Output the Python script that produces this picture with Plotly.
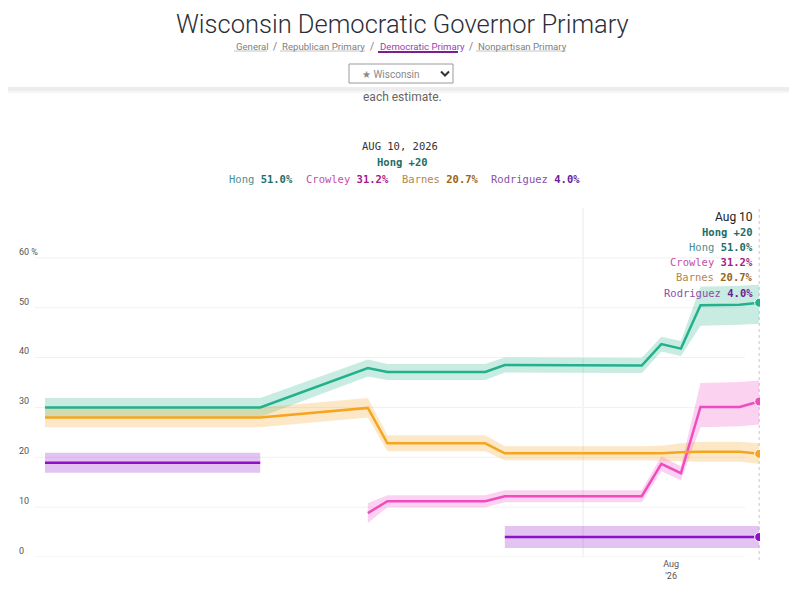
import plotly.graph_objects as go

# --- DATA ---
DATES = ["2026-05-29", "2026-06-20", "2026-07-01", "2026-07-03", "2026-07-13", "2026-07-15",
         "2026-07-29", "2026-07-31", "2026-08-02", "2026-08-04", "2026-08-08", "2026-08-10"]

CANDIDATES = ["Hong", "Crowley", "Barnes", "Rodriguez"]

hong_mid = [30.0, 30.0, 37.9, 37.1, 37.1, 38.5, 38.4, 42.7, 41.8, 50.5, 50.6, 51.0]
hong_lo = [28.1, 28.1, 36.2, 35.5, 35.5, 37.0, 36.9, 41.2, 40.3, 46.4, 46.6, 46.8]
hong_hi = [31.9, 31.9, 39.6, 38.7, 38.7, 40.0, 39.9, 44.2, 43.3, 54.2, 54.4, 54.6]

crowley_mid = [None, None, 8.8, 11.2, 11.2, 12.2, 12.2, 18.7, 16.8, 30.1, 30.1, 31.2]
crowley_lo = [None, None, 6.8, 10.0, 10.0, 11.0, 11.0, 17.2, 15.4, 26.0, 26.2, 26.6]
crowley_hi = [None, None, 10.8, 12.4, 12.4, 13.4, 13.4, 20.2, 18.2, 34.9, 35.1, 35.4]

barnes_mid = [28.0, 28.0, 29.9, 22.8, 22.8, 20.8, 20.8, 20.8, 21.0, 21.1, 21.1, 20.7]
barnes_lo = [26.0, 26.0, 28.0, 21.2, 21.2, 19.4, 19.4, 19.3, 19.2, 19.1, 19.1, 18.7]
barnes_hi = [30.0, 30.0, 31.9, 24.4, 24.4, 22.2, 22.2, 22.3, 22.8, 23.1, 23.1, 22.8]

rodriguez_mid = [18.9, 18.9, None, None, None, 4.0, 4.0, 4.0, 4.0, 4.0, 4.0, 4.0]
rodriguez_lo = [16.9, 16.9, None, None, None, 1.8, 1.8, 1.8, 1.8, 1.8, 1.8, 1.8]
rodriguez_hi = [20.9, 20.9, None, None, None, 6.2, 6.2, 6.2, 6.2, 6.2, 6.2, 6.2]

Y_TICKS = [0, 10, 20, 30, 40, 50, 60]
Y_TICK_TEXT = ["0", "10", "20", "30", "40", "50", "60 %"]
X_TICKS = ["2026-08-01"]
X_TICK_TEXT = ["Aug<br>'26"]
MARKER_DATE = "2026-07-23"

NAV_LINKS = ["General", "Republican Primary", "Democratic Primary", "Nonpartisan Primary"]

# --- STYLE ---
# the page body has an 8px margin, so the figure is drawn 8px in from the top left
PAGE_W, PAGE_H, OFF = 797, 600, 8
W, H = PAGE_W - 2 * OFF, PAGE_H - 2 * OFF
SANS = "Roboto, Arial, sans-serif"
MONO = "DejaVu Sans Mono, monospace"

LINE = {"Hong": "#23b08d", "Crowley": "#f04cc0", "Barnes": "#f5a51f", "Rodriguez": "#8f10c8"}
BAND = {"Hong": "rgba(35,176,141,0.25)", "Crowley": "rgba(240,76,192,0.25)",
        "Barnes": "rgba(245,165,31,0.25)", "Rodriguez": "rgba(143,16,200,0.25)"}
NAME_COL = {"Hong": "#4a9090", "Crowley": "#c450a8", "Barnes": "#b8844c", "Rodriguez": "#8a50a8"}
VAL_COL = {"Hong": "#1e6e68", "Crowley": "#a3208c", "Barnes": "#9a6517", "Rodriguez": "#6a1c98"}


def X(px):
    # page pixel -> paper fraction
    return (px - OFF) / W


def Y(py):
    return 1 - (py - OFF) / H


def runs(dates, lo, hi):
    # split into contiguous pieces (gaps are None)
    out, cur = [], []
    for d, a, b in zip(dates, lo, hi):
        if a is None:
            if cur:
                out.append(cur)
            cur = []
        else:
            cur.append((d, a, b))
    if cur:
        out.append(cur)
    return out


series = {
    "Hong": (hong_mid, hong_lo, hong_hi),
    "Crowley": (crowley_mid, crowley_lo, crowley_hi),
    "Barnes": (barnes_mid, barnes_lo, barnes_hi),
    "Rodriguez": (rodriguez_mid, rodriguez_lo, rodriguez_hi),
}

fig = go.Figure()

# bands
for name in CANDIDATES:
    mid, lo, hi = series[name]
    for piece in runs(DATES, lo, hi):
        xs = [p[0] for p in piece] + [p[0] for p in reversed(piece)]
        ys = [p[2] for p in piece] + [p[1] for p in reversed(piece)]
        fig.add_trace(go.Scatter(x=xs, y=ys, fill="toself", fillcolor=BAND[name],
                                 line=dict(width=0), mode="lines", hoverinfo="skip",
                                 showlegend=False))

# lines
for name in CANDIDATES:
    mid, lo, hi = series[name]
    fig.add_trace(go.Scatter(x=DATES, y=mid, mode="lines", connectgaps=False,
                             line=dict(color=LINE[name], width=2.5), name=name,
                             showlegend=False))

# end dots
for name in CANDIDATES:
    mid, lo, hi = series[name]
    fig.add_trace(go.Scatter(x=[DATES[-1]], y=[mid[-1]], mode="markers",
                             marker=dict(color=LINE[name], size=9, line=dict(color="white", width=1)),
                             showlegend=False, hoverinfo="skip", yaxis="y2"))

# --- texts built from data ---
last = {n: series[n][0][-1] for n in CANDIDATES}
ranked = sorted(CANDIDATES, key=lambda n: last[n], reverse=True)
leader = ranked[0]
lead = round(last[ranked[0]] - last[ranked[1]])
lead_txt = f"<b>{leader} +{lead}</b>"

ann = []

# page header
ann.append(dict(text="Wisconsin Democratic Governor Primary", x=X(402), y=Y(8),
                yanchor="top", borderpad=0,
                font=dict(family=SANS, size=25.5, color="#2a2e3a", weight=300)))
nav_x = [234, 280, 378, 476]
nav_w = [33, 85, 85, 90]
slash_x = [274, 371, 470]
for link, lx in zip(NAV_LINKS, nav_x):
    col = "#9a3fae" if link == "Democratic Primary" else "#808080"
    ann.append(dict(text=link, x=X(lx), y=Y(46), xanchor="left",
                    font=dict(family=SANS, size=9.6, color=col)))
for sx in slash_x:
    ann.append(dict(text="/", x=X(sx + 1), y=Y(46),
                    font=dict(family=SANS, size=10, color="#777")))
ann.append(dict(text="★ Wisconsin", x=X(360), y=Y(74), xanchor="left",
                font=dict(family=SANS, size=10, color="#888")))
ann.append(dict(text="each estimate.", x=X(402), y=Y(97),
                font=dict(family=SANS, size=12, color="#666")))

# chart header
ann.append(dict(text="AUG 10, 2026", x=X(400), y=Y(146),
                font=dict(family=MONO, size=10.5, color="#333")))
ann.append(dict(text=lead_txt, x=X(402), y=Y(162),
                font=dict(family=MONO, size=10.5, color=VAL_COL[leader])))
leg_x = [227, 304, 400, 489]
for name, lx in zip(CANDIDATES, leg_x):
    ann.append(dict(text=f"<span style='color:{NAME_COL[name]}'>{name}</span> <b>{last[name]:.1f}%</b>",
                    x=X(lx), y=Y(179), xanchor="left",
                    font=dict(family=MONO, size=10.5, color=VAL_COL[name])))

# hover box on the right
ann.append(dict(text="Aug 10", x=X(755), y=Y(217), xanchor="right",
                font=dict(family=SANS, size=12, color="#222")))
ann.append(dict(text=lead_txt, x=X(755), y=Y(232), xanchor="right",
                font=dict(family=MONO, size=10.5, color=VAL_COL[leader])))
for i, name in enumerate(CANDIDATES):
    ann.append(dict(text=f"<span style='color:{NAME_COL[name]}'>{name}</span> <b>{last[name]:.1f}%</b>",
                    x=X(755), y=Y(247 + i * 15.2), xanchor="right",
                    font=dict(family=MONO, size=10.5, color=VAL_COL[name])))

for a in ann:
    a.update(xref="paper", yref="paper", showarrow=False)
    a.setdefault("xanchor", "center")
    a.setdefault("yanchor", "middle")

shapes = [
    # header shadow
    dict(type="rect", xref="paper", yref="paper", x0=X(0), x1=X(PAGE_W), y0=Y(91), y1=Y(87),
         fillcolor="#ededed", line=dict(width=0)),
    dict(type="rect", xref="paper", yref="paper", x0=X(0), x1=X(PAGE_W), y0=Y(93), y1=Y(91),
         fillcolor="#f6f6f6", line=dict(width=0)),
    # dropdown box
    dict(type="rect", xref="paper", yref="paper", x0=X(349), x1=X(453), y0=Y(83), y1=Y(64),
         line=dict(color="#9a9a9a", width=1), fillcolor="white"),
    dict(type="path", xref="paper", yref="paper",
         path=f"M {X(441)} {Y(71.5)} L {X(445)} {Y(75.5)} L {X(449)} {Y(71.5)}",
         line=dict(color="#333", width=2)),
    # marker lines
    dict(type="line", xref="x", yref="paper", x0=MARKER_DATE, x1=MARKER_DATE, y0=Y(557), y1=Y(208),
         line=dict(color="#ebebeb", width=1), layer="below"),
    dict(type="line", xref="x", yref="paper", x0=DATES[-1], x1=DATES[-1], y0=Y(560), y1=Y(208),
         line=dict(color="#c8c8c8", width=1, dash="dot"), layer="below"),
]
# horizontal gridlines (they stop short of the last data point)
for v in Y_TICKS:
    shapes.append(dict(type="line", xref="paper", yref="y", x0=X(35), x1=X(745), y0=v, y1=v,
                       line=dict(color="#f1f1f1", width=1), layer="below"))
# nav underlines
for link, lx, lw in zip(NAV_LINKS, nav_x, nav_w):
    if link == "Democratic Primary":
        shapes.append(dict(type="line", xref="paper", yref="paper", x0=X(lx), x1=X(lx + lw - 5),
                           y0=Y(52), y1=Y(52), line=dict(color="#7a1f8e", width=2)))
    else:
        shapes.append(dict(type="line", xref="paper", yref="paper", x0=X(lx), x1=X(lx + lw),
                           y0=Y(51), y1=Y(51), line=dict(color="#c4c4c4", width=1)))

fig.update_layout(
    width=W, height=H,
    margin=dict(l=0, r=0, t=0, b=0),
    paper_bgcolor="white", plot_bgcolor="white",
    showlegend=False,
    hovermode=False,
    xaxis=dict(type="date", domain=[X(45), X(760)],
               range=["2026-05-29", "2026-08-10 02:00"],
               tickvals=X_TICKS, ticktext=X_TICK_TEXT,
               showgrid=False, zeroline=False, showline=False, ticks="",
               tickfont=dict(family=SANS, size=9, color="#555")),
    yaxis=dict(domain=[Y(557), Y(208)], range=[0, 70], tickvals=Y_TICKS,
               showticklabels=False, showgrid=False,
               zeroline=False, showline=False, ticks=""),
    yaxis2=dict(overlaying="y", matches="y", anchor="free", position=X(18), side="right",
                tickvals=Y_TICKS, ticktext=Y_TICK_TEXT, showgrid=False, zeroline=False,
                showline=False, ticks="", ticklabelposition="outside top",
                tickfont=dict(family=SANS, size=9, color="#555")),
    annotations=ann,
    shapes=shapes,
)

fig.write_html("out.html")
